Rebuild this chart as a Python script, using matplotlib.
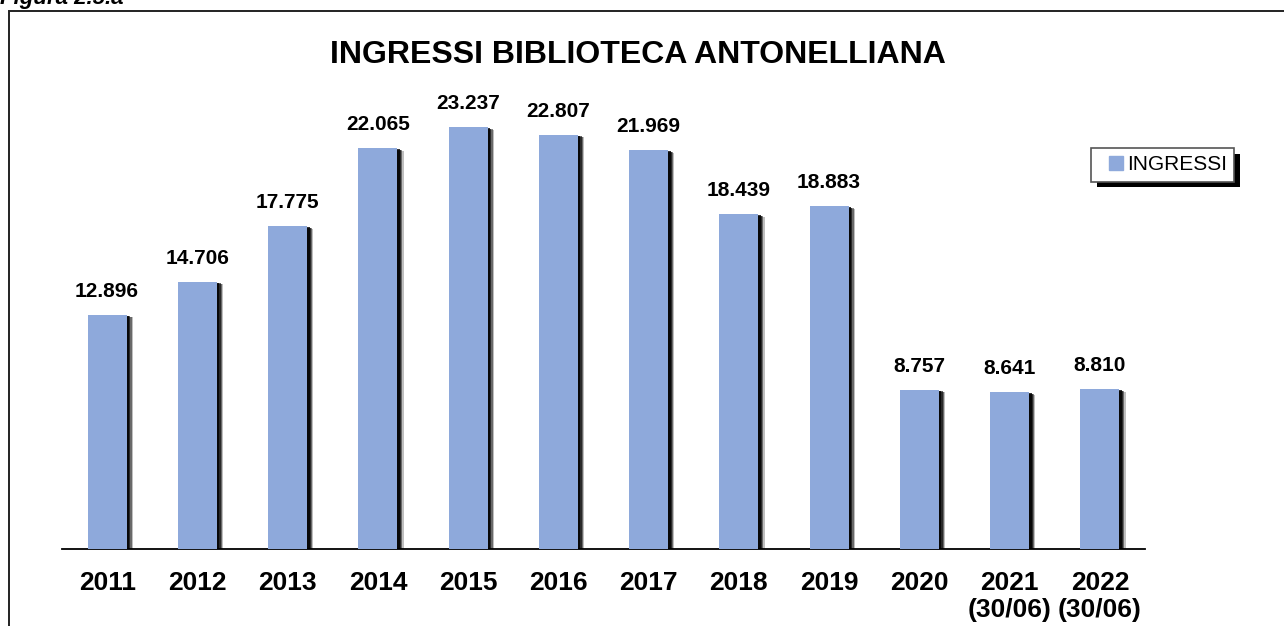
import matplotlib
matplotlib.use('Agg')
import matplotlib.pyplot as plt
import matplotlib.patheffects as pe
from matplotlib.patches import Rectangle
from matplotlib.lines import Line2D

plt.rcParams['font.family'] = ['Liberation Sans', 'DejaVu Sans']

# data
years = ['2011', '2012', '2013', '2014', '2015', '2016', '2017', '2018', '2019',
         '2020', '2021\n(30/06)', '2022\n(30/06)']
ingressi = [12896, 14706, 17775, 22065, 23237, 22807, 21969, 18439, 18883,
            8757, 8641, 8810]
value_labels = ['12.896', '14.706', '17.775', '22.065', '23.237', '22.807', '21.969',
                '18.439', '18.883', '8.757', '8.641', '8.810']
bar_color = '#8EA9DB'

W, H = 1284, 626
fig = plt.figure(figsize=(W / 100, H / 100), dpi=100)

# outer frame (runs off right and bottom)
fig.patches.append(Rectangle((9 / W, -0.1), 1.2, (H - 11) / H + 0.1,
                             transform=fig.transFigure, fill=False,
                             edgecolor='#222222', linewidth=1.4))
fig.text(0.0, (H - 4) / H, 'Figura 2.5.a', fontsize=16, fontweight='bold',
         fontstyle='italic', ha='left', va='baseline')

ax = fig.add_axes([62 / W, (H - 549) / H, (1145 - 62) / W, (549 - 95) / H])
x = range(len(years))
bars = ax.bar(x, ingressi, width=0.43, color=bar_color, zorder=3)
# soft dark shadow on the right side
shadow = [pe.SimplePatchShadow(offset=(o, -o * 0.4), shadow_rgbFace='black', alpha=a)
          for o, a in ((4.5, 0.25), (3.6, 0.45), (2.7, 0.6), (1.8, 0.8))]
for b in bars:
    b.set_path_effects(shadow + [pe.Normal()])

for i, v in enumerate(ingressi):
    ax.annotate(value_labels[i], (i, v), xytext=(0, 10), textcoords='offset points',
                ha='center', va='bottom', fontsize=15, fontweight='bold')

ax.set_xlim(-0.5, len(years) - 0.5)
ax.set_ylim(0, 25000)
ax.set_xticks(list(x))
ax.set_xticklabels(years, fontsize=19, fontweight='bold', linespacing=1.15)
ax.tick_params(axis='x', length=0, pad=16)
ax.set_yticks([])
for s in ['top', 'right', 'left']:
    ax.spines[s].set_visible(False)
ax.spines['bottom'].set_linewidth(1.3)

fig.text(0.497, (H - 55) / H, 'INGRESSI BIBLIOTECA ANTONELLIANA', fontsize=23,
         fontweight='bold', ha='center', va='center')

handle = Line2D([], [], linestyle='none', marker='s', markersize=9.4,
                markerfacecolor=bar_color, markeredgecolor=bar_color)
leg = ax.legend([handle], ['INGRESSI'], loc='upper left',
                bbox_to_anchor=(1091 / W, (H - 148) / H),
                bbox_transform=fig.transFigure, borderaxespad=0, fontsize=15,
                fancybox=False, framealpha=1, handlelength=1.68,
                handletextpad=-0.3, borderpad=0.35)
leg.get_frame().set_edgecolor('#555555')
leg.get_frame().set_linewidth(1.2)
leg.get_frame().set_path_effects([pe.SimplePatchShadow(offset=(4, -4), shadow_rgbFace='black',
                                                       alpha=1), pe.Normal()])

fig.savefig('out.png', dpi=100)
